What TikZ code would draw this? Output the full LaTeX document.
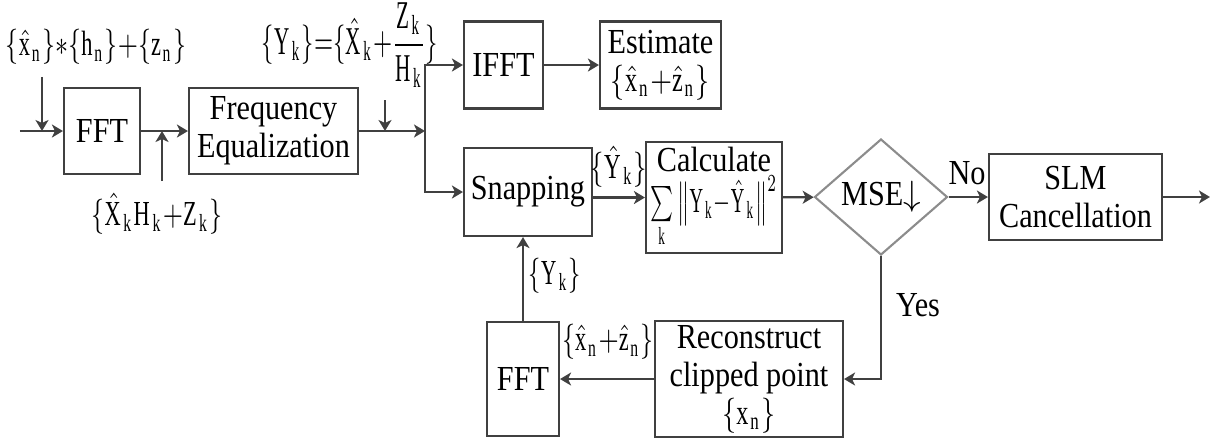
\documentclass[tikz,border=0pt]{standalone}
\usepackage{amsmath,graphicx}
\usepackage{fontspec}
\setmainfont{Liberation Serif}[FakeStretch=0.86]
\usetikzlibrary{arrows.meta,shapes.geometric}
\newcommand{\rv}[1]{\mathrm{#1}}
\newcommand{\lbl}[2][.74]{\scalebox{#1}[1]{$#2$}}
\colorlet{ln}{black!75}
\tikzset{blk/.style={draw=ln,line width=.6pt,align=center,inner sep=0pt},
 dec/.style={diamond,draw=black!45,line width=.6pt,inner sep=0pt,minimum width=13.3mm,minimum height=11.6mm},
 wire/.style={draw=ln,line width=.6pt},arr/.style={wire,-{Stealth[length=1.1mm,width=1.3mm,inset=.3mm]}},
 every node/.style={font=\fontsize{10}{10.8}\selectfont}}
\begin{document}
\begin{tikzpicture}[x=1cm,y=-1cm]
\useasboundingbox (0,0) rectangle (12.2,4.38);
% upper chain
\node[blk,minimum width=7.6mm,minimum height=8.6mm] (fa) at (1.02,1.31) {FFT};
\node[blk,minimum width=16.9mm,minimum height=8.6mm] (eq) at (2.735,1.31) {Frequency\\Equalization};
\node[blk,minimum width=7.9mm,minimum height=8.7mm] (ifft) at (5.035,0.65) {IFFT};
\node[blk,minimum width=12.1mm,minimum height=8.7mm] (est) at (6.605,0.65) {Estimate\\\lbl[.8]{\{\hat{\rv{x}}_\rv{n}{+}\hat{\rv{z}}_\rv{n}\}}};
\node[blk,minimum width=12.8mm,minimum height=8.8mm] (snap) at (5.28,1.92) {Snapping};
\node[blk,minimum width=13.6mm,minimum height=11.1mm] (calc) at (7.14,1.975) {Calculate\\[1pt]\lbl[.62]{\sum\limits_{\rv{k}}\big\|\rv{Y_k}{-}\hat{\rv{Y}}_\rv{k}\big\|^2}};
\node[dec] (mse) at (8.81,1.97) {MSE$\downarrow$};
\node[blk,minimum width=17.3mm,minimum height=8.6mm] (slm) at (10.755,1.97) {SLM\\Cancellation};
% feedback
\node[blk,minimum width=18.8mm,minimum height=11.6mm] (rec) at (7.49,3.79) {Reconstruct\\clipped point\\\lbl[.8]{\{\rv{x_n}\}}};
\node[blk,minimum width=7.2mm,minimum height=11.4mm] (fb) at (5.23,3.79) {FFT};
% labels
\node (lx) at (0.96,0.47) {\lbl{\{\hat{\rv{x}}_\rv{n}\}{*}\{\rv{h_n}\}{+}\{\rv{z_n}\}}};
\node (lh) at (1.57,2.14) {\lbl{\{\hat{\rv{X}}_\rv{k}\rv{H_k}{+}\rv{Z_k}\}}};
\node (ly) at (3.50,0.45) {\scalebox{.7}[1.12]{$\{\rv{Y_k}\}{=}\{\hat{\rv{X}}_\rv{k}{+}\dfrac{\rv{Z_k}}{\rv{H_k}}\}$}};
\node at (6.19,1.67) {\lbl[.76]{\{\hat{\rv{Y}}_\rv{k}\}}};
\node at (5.55,2.76) {\lbl[.7]{\{\rv{Y_k}\}}};
\node at (6.08,3.42) {\lbl{\{\hat{\rv{x}}_\rv{n}{+}\hat{\rv{z}}_\rv{n}\}}};
\node at (9.67,1.73) {No};
\node at (9.18,3.05) {Yes};
% points on wires
\coordinate (in) at (0.2,1.31);\coordinate (ja) at (0.42,1.31);\coordinate (jb) at (1.62,1.31);
\coordinate (jd) at (3.85,1.31);\coordinate (jc) at (4.25,1.31);\coordinate (out) at (12.1,1.97);
% connectors
\draw[arr] (in)--(fa);\draw[arr] (ja|-lx.south)--(ja);\draw[arr] (fa)--(eq);\draw[arr] (jb|-lh.north)--(jb);
\draw[arr] (eq)--(jc);\draw[arr] (jd|-ly.south)--(jd);
\draw[arr] (jc)|-(ifft);\draw[arr] (jc)|-(snap);\draw[arr] (ifft)--(est);
\draw[arr] (calc.west-|snap.east)--(calc.west);\draw[arr] (calc)--(mse);\draw[arr] (mse)--(slm);\draw[arr] (slm)--(out);
\draw[arr] (mse.south)|-(rec.east);\draw[arr] (rec)--(fb);\draw[arr] (fb.north)--(fb.north|-snap.south);
\end{tikzpicture}
\end{document}
